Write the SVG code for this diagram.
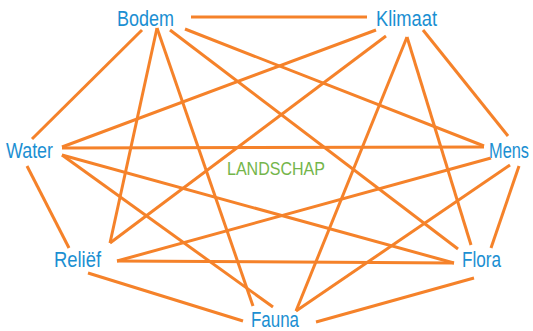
<svg xmlns="http://www.w3.org/2000/svg" width="533" height="331" viewBox="0 0 533 331">
<style>
.bg{fill:#ffffff}
.e line{stroke:#f5822a;stroke-width:3;stroke-linecap:butt}
.n text{font-family:"Liberation Sans Narrow","Liberation Sans",Arial,sans-serif;font-size:21.5px;fill:#1b8fd2}
.c text{font-family:"Liberation Sans Narrow","Liberation Sans",Arial,sans-serif;font-size:19px;fill:#74b54a}
</style>
<rect class="bg" x="0" y="0" width="533" height="331"/>
<g id="connectors" class="e">
<line x1="191" y1="17" x2="367" y2="17"/>
<line x1="142" y1="30" x2="32" y2="139"/>
<line x1="157" y1="28" x2="110" y2="243"/>
<line x1="157" y1="28" x2="253" y2="306"/>
<line x1="170" y1="30" x2="458" y2="249"/>
<line x1="185" y1="29" x2="484" y2="146"/>
<line x1="376" y1="30" x2="62" y2="147"/>
<line x1="386" y1="36" x2="110" y2="243"/>
<line x1="407" y1="37" x2="296" y2="311"/>
<line x1="407" y1="37" x2="471" y2="245"/>
<line x1="423" y1="30" x2="508" y2="136"/>
<line x1="62" y1="148" x2="484" y2="147"/>
<line x1="62" y1="155" x2="454" y2="263"/>
<line x1="62" y1="155" x2="273" y2="307"/>
<line x1="27" y1="166" x2="69" y2="248"/>
<line x1="491" y1="158" x2="117" y2="261"/>
<line x1="510" y1="165" x2="296" y2="311"/>
<line x1="519" y1="166" x2="491" y2="248"/>
<line x1="117" y1="261" x2="454" y2="263"/>
<line x1="88" y1="273" x2="243" y2="321"/>
<line x1="474" y1="278" x2="316" y2="322"/>
</g>
<g id="bodem" class="n"><text x="117" y="26" textLength="57" lengthAdjust="spacingAndGlyphs">Bodem</text></g>
<g id="klimaat" class="n"><text x="376" y="26" textLength="61" lengthAdjust="spacingAndGlyphs">Klimaat</text></g>
<g id="water" class="n"><text x="6" y="158" textLength="47" lengthAdjust="spacingAndGlyphs">Water</text></g>
<g id="mens" class="n"><text x="489" y="158" textLength="40" lengthAdjust="spacingAndGlyphs">Mens</text></g>
<g id="relief" class="n"><text x="54" y="267" textLength="47" lengthAdjust="spacingAndGlyphs">Reliëf</text></g>
<g id="flora" class="n"><text x="462" y="267" textLength="39" lengthAdjust="spacingAndGlyphs">Flora</text></g>
<g id="fauna" class="n"><text x="251" y="327" textLength="48" lengthAdjust="spacingAndGlyphs">Fauna</text></g>
<g id="landschap" class="c"><text x="227" y="175" textLength="98" lengthAdjust="spacingAndGlyphs">LANDSCHAP</text></g>
</svg>
